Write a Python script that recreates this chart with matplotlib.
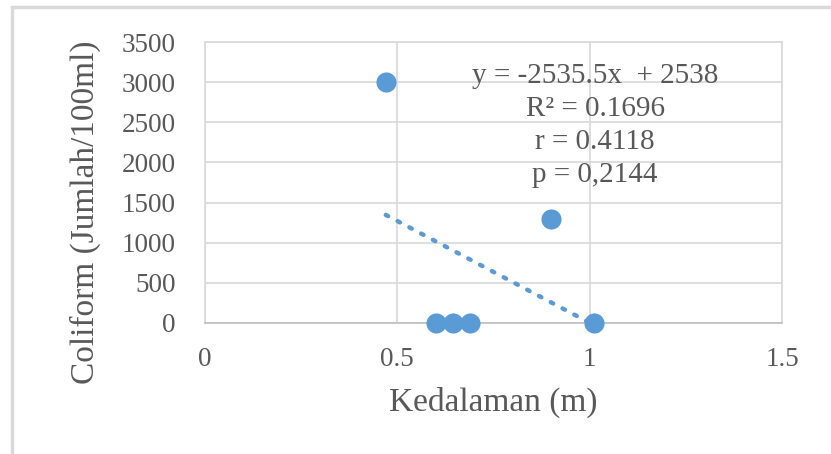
import numpy as np
import matplotlib.pyplot as plt
from matplotlib.patches import Rectangle

plt.rcParams['font.family'] = ['Liberation Serif', 'DejaVu Serif']

# data
kedalaman = [0.47, 0.60, 0.645, 0.69, 0.90, 1.01]
coliform = [3000, 0, 0, 0, 1300, 0]
slope = -2535.5
intercept = 2538
stats_lines = ['y = -2535.5x  + 2538', 'R² = 0.1696', 'r = 0.4118', 'p = 0,2144']

xticks = [0, 0.5, 1, 1.5]
yticks = [0, 500, 1000, 1500, 2000, 2500, 3000, 3500]

blue = '#5B9BD5'
grid_c = '#D9D9D9'
txt_c = '#595959'

fig = plt.figure(figsize=(8.31, 4.54), dpi=100)
W, H = 831, 454
ax = fig.add_axes([205 / W, 1 - 323 / H, (782 - 205) / W, (323 - 42) / H])

# outer chart border (light gray)
fig.patches.append(Rectangle((12 / W, -0.05), 1.0, 1 - 7 / H + 0.05,
                             transform=fig.transFigure, fill=False,
                             edgecolor='#D9D9D9', linewidth=2.5))

# trendline
tx = np.array([min(kedalaman), max(kedalaman)])
ax.plot(tx, slope * tx + intercept, linestyle=(0, (0.6, 2.4)), color=blue,
        linewidth=3.2, dash_capstyle='round', zorder=3)

ax.scatter(kedalaman, coliform, s=210, color=blue, zorder=4, clip_on=False,
           linewidths=0)

ax.set_xlim(0, 1.5)
ax.set_ylim(0, 3500)
ax.set_xticks(xticks)
ax.set_xticklabels(['0', '0.5', '1', '1.5'])
ax.set_yticks(yticks)
ax.grid(True, color=grid_c, linewidth=1.2)
ax.set_axisbelow(True)
for side in ['top', 'right', 'left']:
    ax.spines[side].set_color(grid_c)
    ax.spines[side].set_linewidth(1.2)
ax.spines['bottom'].set_color('#BFBFBF')
ax.spines['bottom'].set_linewidth(1.2)
ax.tick_params(length=0, labelsize=19.5, colors=txt_c)
ax.tick_params(axis='x', pad=17)
ax.tick_params(axis='y', pad=21)

ax.set_xlabel('Kedalaman (m)', fontsize=24, color=txt_c)
ax.set_ylabel('Coliform (Jumlah/100ml)', fontsize=24, color=txt_c)
ax.xaxis.set_label_coords(0.5, -0.228)
ax.yaxis.set_label_coords(-0.18, 0.395)

ys = [0.879, 0.762, 0.644, 0.527]
for s, yy in zip(stats_lines, ys):
    ax.text(0.676, yy, s, transform=ax.transAxes, ha='center', va='center',
            fontsize=21, color=txt_c)

fig.savefig('out.png', dpi=100)
